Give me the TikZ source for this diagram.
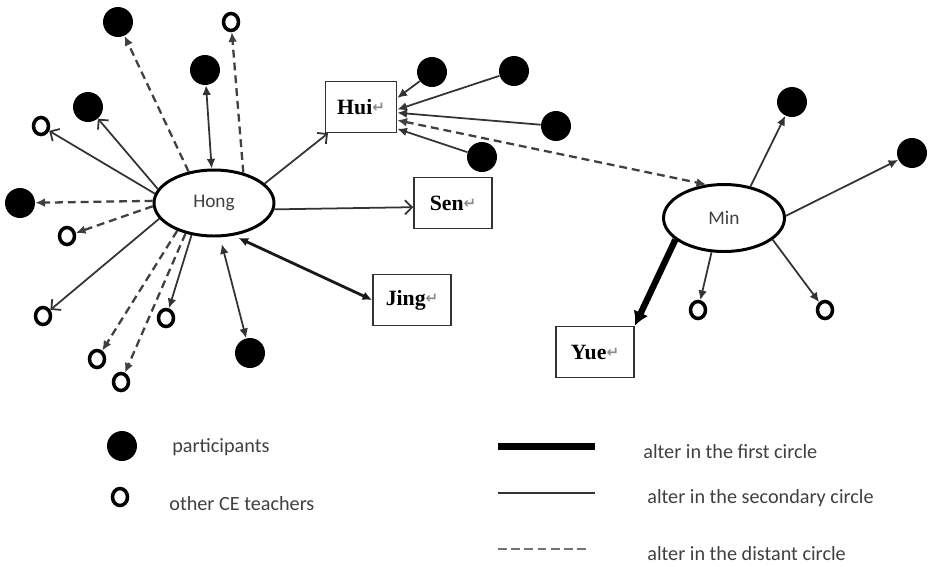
\documentclass[tikz,border=0pt]{standalone}
\usepackage{fontspec}
\setmainfont{Liberation Serif}
\newfontfamily\calfont{Carlito}
\newfontfamily\symfont{DejaVu Sans}
\usetikzlibrary{arrows.meta,shapes.geometric}

\newcommand{\retmark}{{\symfont\fontsize{8.5}{8.5}\selectfont\color{black!45}\raisebox{0.2ex}{↵}}}

\tikzset{
  part/.style={circle, fill=black, minimum size=0.6cm, inner sep=0pt},
  other/.style={ellipse, draw=black, line width=2pt, minimum width=0.3cm, minimum height=0.34cm, inner sep=0pt},
  person/.style={ellipse, draw=black, line width=1.7pt, minimum width=2.4cm, minimum height=1.32cm,
    font=\calfont\fontsize{11}{13}\selectfont, text=black!75},
  alter/.style={rectangle, draw=black!80, line width=0.9pt, minimum width=1.56cm, minimum height=1.02cm,
    font=\bfseries\fontsize{12.4}{14}\selectfont},
  secline/.style={draw=black!80, line width=1pt},
  farline/.style={draw=black!75, line width=1.3pt, dash pattern=on 4.5pt off 2.8pt},
  nearline/.style={draw=black!90, line width=1.6pt},
  firstline/.style={draw=black, line width=3.6pt},
  onetip/.style={-{Latex[length=5.5pt,width=5pt]}},
  twotip/.style={{Latex[length=5.5pt,width=5pt]}-{Latex[length=5.5pt,width=5pt]}},
  opentip/.style={-{Straight Barb[length=4pt,width=8pt]}},
  legtext/.style={anchor=west, inner sep=0pt, font=\calfont\fontsize{11.5}{13}\selectfont, text=black!75}
}

\begin{document}
\begin{tikzpicture}[x=0.02cm, y=-0.02cm]
    \useasboundingbox (0,0) rectangle (929,566);

    % Egos
    \node[person] (hong) at (214,203) {Hong};
    \node[person, minimum width=2.42cm, minimum height=1.34cm] (min) at (724,218) {Min};

    % Named alters
    \node[alter, minimum width=1.42cm] (hui) at (361,107) {Hui\retmark};
    \node[alter] (sen) at (453,203) {Sen\retmark};
    \node[alter] (jing) at (412,300) {Jing\retmark};
    \node[alter] (yue) at (595,352) {Yue\retmark};

    % Participants
    \foreach \n/\x/\y in {h1/118/22, h2/205/70, h3/88/107, h4/20/203, h5/250/353,
                          u1/432/72, u2/514/71, u3/556/126, u4/482/157,
                          m1/792/102, m2/912/153}{
        \node[part] (\n) at (\x,\y) {};
    }

    % Other CE teachers
    \foreach \n/\x/\y in {o1/231/22, o2/41/126, o3/67/236, o4/43/316, o5/97/359,
                          o6/121/382, o7/166/318, m3/698/310, m4/825/310}{
        \node[other] (\n) at (\x,\y) {};
    }

    % Hong's ties
    \draw[farline, onetip] (hong.129) -- (h1);
    \draw[farline, onetip] (hong.46) -- (o1);
    \draw[secline, twotip] (hong) -- (h2);
    \draw[secline, opentip] (hong.166) -- (h3);
    \draw[secline, opentip] (hong.171) -- (o2);
    \draw[farline, onetip] (hong.178) -- (h4);
    \draw[farline, onetip] (hong.183) -- (o3);
    \draw[secline, opentip] (hong.196) -- (o4);
    \draw[farline, onetip] (hong.217) -- (o5);
    \draw[farline, onetip] (hong.227) -- (o6);
    \draw[secline, onetip] (hong.235) -- (o7);
    \draw[secline, twotip, shorten <=4pt] (hong.-80) -- (h5);
    \draw[nearline, twotip, shorten <=3pt] (hong.-59) -- (jing.west);
    \draw[secline, opentip] (hong.21) -- (hui);
    \draw[secline, opentip] (hong.-6) -- (sen.186);

    % Hui's ties
    \draw[secline, onetip] (u1) -- (hui.14);
    \draw[secline, onetip] (u2) -- (hui.-4);
    \draw[secline, onetip] (u3) -- (hui.-9);
    \draw[secline, onetip] (u4) -- (hui.-31);
    \draw[farline, twotip] (hui.-20) -- (min.118);

    % Min's ties
    \draw[secline, onetip] (min.50) -- (m1);
    \draw[secline, onetip] (min.2) -- (m2);
    \draw[secline, onetip] (min.250) -- (m3);
    \draw[secline, onetip] (min.336) -- (m4);
    \draw[firstline, -{Latex[length=8pt,width=9pt]}] (min.204) -- (yue.north east);

    % Legend
    \node[part] (lp) at (122,446) {};
    \node[legtext] (lpt) at (172,447) {participants};
    \node[other] (lo) at (120,497) {};
    \node[legtext] (lot) at (169,504) {other CE teachers};
    \coordinate (la) at (498,446);
    \coordinate (lb) at (595,446);
    \coordinate (lc) at (498,493);
    \coordinate (ld) at (595,493);
    \coordinate (le) at (498,549);
    \coordinate (lf) at (590,549);
    \draw[firstline, line width=4pt] (la) -- (lb);
    \draw[secline, line width=1pt] (lc) -- (ld);
    \draw[farline, draw=black!55, line width=1pt, dash pattern=on 5pt off 2.5pt] (le) -- (lf);
    \node[legtext] (lat) at (643,452) {alter in the first circle};
    \node[legtext] (lct) at (647,498) {alter in the secondary circle};
    \node[legtext] (let) at (647,554) {alter in the distant circle};
\end{tikzpicture}
\end{document}
